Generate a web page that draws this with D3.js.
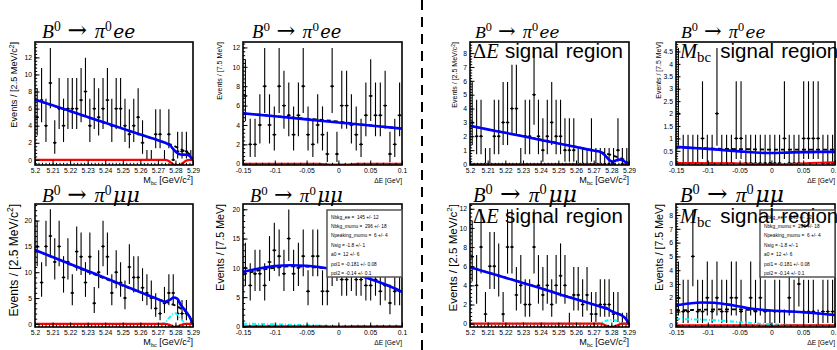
<!DOCTYPE html>
<html><head><meta charset="utf-8">
<script src="https://cdn.jsdelivr.net/npm/d3@7"></script>
<style>body{margin:0;background:#fff}svg{display:block}text{white-space:pre}</style>
</head><body><svg id="c" width="837" height="350"></svg>
<script>
// ---------------- DATA ----------------
const mbcRange = [5.2, 5.29], mbcBins = 36;
const deRange = [-0.15, 0.1], deBins = 33;
const mbcTicks = [5.2, 5.21, 5.22, 5.23, 5.24, 5.25, 5.26, 5.27, 5.28, 5.29];
const mbcTickLabels = ["5.2", "5.21", "5.22", "5.23", "5.24", "5.25", "5.26", "5.27", "5.28", "5.29"];
const deTicks = [-0.15, -0.1, -0.05, 0, 0.05, 0.1];
const deTickLabels = ["-0.15", "-0.1", "-0.05", "0", "0.05", "0.1"];

// bin counts
const countsMbcEE   = [5,7,4,9,2,6,4,6,6,6,7,8,4,6,5,6,7,4,6,6,4,3,4,5,2,0,0,3,3,0,3,0,1,1,1,0];
const countsDeEE    = [7,2,2,4,8,4,3,8,6,5,3,5,8,3,2,4,3,1,8,1,6,6,4,3,2,5,7,5,5,6,1,2,5];
const countsMbcEEsr = [3,2,2,0,0,2,2,3,3,4,4,0,2,2,5,2,1,2,3,2,2,1,1,1,0,0,0,1,0,0,0,0,0,1,0,0];
const countsDeEEsr  = [2,0,0,0,0,1,0,0,2,0,0,0,1,1,0,0,0,0,0,0,0,0,1,0,0,0,1,1,1,1,0,0,0];
const countsMbcMM   = [15,8,15,17,12,15,9,12,6,14,13,8,13,4,10,15,13,6,10,8,5,11,9,9,7,6,5,3,2,4,6,6,2,2,2,0];
const countsDeMM    = [10,7,9,9,7,11,13,12,9,15,9,10,12,6,12,12,6,6,10,11,8,8,9,8,8,7,7,8,6,7,4,6,6];
const countsMbcMMsr = [7,4,8,1,6,6,5,1,8,8,3,4,2,2,8,4,3,4,2,4,5,4,0,3,3,2,3,1,1,2,2,2,1,1,0,0];
const countsDeMMsr  = [2,1,1,5,1,1,2,1,2,1,1,2,2,1,0,2,1,2,1,0,1,1,0,2,1,3,1,1,1,0,1,1,1];

// 68.3% Poisson intervals (n = 0..20)
const poissonLo = [0,0.173,0.708,1.367,2.086,2.840,3.620,4.419,5.232,6.057,6.891,7.734,8.585,9.441,10.30,11.17,12.04,12.92,13.80,14.68,15.57];
const poissonHi = [1.148,3.300,4.638,5.918,7.163,8.382,9.584,10.77,11.95,13.11,14.27,15.42,16.56,17.70,18.83,19.96,21.08,22.20,23.32,24.44,25.55];

// fitted curves [x, y]
const totMbcEE = [[5.2,7.05],[5.21,6.4],[5.22,5.72],[5.23,5.03],[5.24,4.34],[5.25,3.66],[5.26,2.97],[5.27,2.3],[5.274,2.02],[5.277,1.7],[5.279,1.2],[5.281,0.8],[5.283,0.63],[5.286,0.6],[5.288,0.48],[5.29,0]];
const bkgMbcEE = [[5.2,7.05],[5.27,2.3],[5.275,1.97],[5.278,1.75],[5.28,1.55],[5.283,1.25],[5.286,0.95],[5.288,0.65],[5.29,0]];
const sigMbcEE = [[5.2,0],[5.274,0],[5.276,-0.1],[5.278,-0.4],[5.28,-0.6],[5.282,-0.6],[5.284,-0.4],[5.286,-0.1],[5.288,0],[5.29,0]];

const totDeEE = [[-0.15,5.2],[-0.1,4.9],[-0.05,4.58],[0,4.25],[0.05,3.95],[0.1,3.62]];
const bkgDeEE = [[-0.15,5.2],[-0.1,4.92],[-0.06,4.7],[-0.03,4.55],[0,4.35],[0.03,4.1],[0.06,3.9],[0.1,3.63]];
const sigDeEE = [[-0.15,0],[-0.03,0],[-0.01,-0.1],[0.01,-0.1],[0.03,0],[0.1,0]];

const totMbcEEsr = [[5.2,2.75],[5.21,2.5],[5.22,2.25],[5.23,2.0],[5.24,1.74],[5.25,1.48],[5.26,1.23],[5.27,0.97],[5.2736,0.89],[5.2765,0.62],[5.279,0.28],[5.2805,0.17],[5.2825,0.25],[5.284,0.33],[5.286,0.3],[5.288,0.14],[5.29,0]];
const bkgMbcEEsr = [[5.2,2.75],[5.27,0.97],[5.275,0.83],[5.28,0.65],[5.284,0.48],[5.287,0.32],[5.29,0]];
const sigMbcEEsr = [[5.2,0],[5.274,0],[5.278,-0.3],[5.281,-0.45],[5.284,-0.3],[5.288,0],[5.29,0]];

const totDeEEsr = [[-0.15,0.66],[-0.125,0.62],[-0.1,0.58],[-0.075,0.53],[-0.05,0.48],[-0.025,0.43],[0,0.41],[0.025,0.43],[0.05,0.45],[0.075,0.46],[0.1,0.46]];
const bkgDeEEsr = [[-0.15,0.64],[-0.125,0.62],[-0.1,0.6],[-0.075,0.58],[-0.05,0.57],[-0.025,0.56],[0,0.55],[0.05,0.55],[0.1,0.55]];
const sigDeEEsr = [[-0.15,0.01],[-0.06,0],[-0.03,-0.03],[0,-0.05],[0.03,-0.03],[0.06,0.01],[0.1,0.04]];

const totMbcMM = [[5.2,14.3],[5.21,12.95],[5.22,11.6],[5.23,10.25],[5.24,8.9],[5.25,7.5],[5.26,6.15],[5.27,4.8],[5.274,4.3],[5.277,4.7],[5.279,5.1],[5.281,4.9],[5.283,3.7],[5.286,2.4],[5.288,1.4],[5.29,0]];
const bkgMbcMM = [[5.2,14.3],[5.27,4.8],[5.274,4.3],[5.277,3.95],[5.28,3.55],[5.283,3.0],[5.286,2.3],[5.288,1.4],[5.29,0]];
const peakMbcMM = [[5.2,0],[5.272,0],[5.274,0.3],[5.276,1.0],[5.278,1.8],[5.2795,2.1],[5.281,1.8],[5.283,1.0],[5.285,0.3],[5.287,0],[5.29,0]];
const sigMbcMM = [[5.2,0],[5.274,0],[5.277,-0.2],[5.28,-0.6],[5.283,-0.2],[5.286,0],[5.29,0]];

const totDeMM = [[-0.15,9.3],[-0.125,9.9],[-0.1,10.3],[-0.075,10.45],[-0.05,10.35],[-0.025,10.05],[0,9.55],[0.025,8.9],[0.05,8.1],[0.075,7.1],[0.1,5.9]];
const bkgDeMM = [[-0.15,8.85],[-0.125,9.55],[-0.1,10.0],[-0.075,10.25],[-0.05,10.2],[-0.025,9.95],[0,9.5],[0.025,8.9],[0.05,8.1],[0.075,7.1],[0.1,5.9]];
const peakDeMM = [[-0.15,0.45],[-0.125,0.42],[-0.1,0.35],[-0.075,0.28],[-0.05,0.2],[-0.025,0.1],[0,0.04],[0.025,0.01],[0.05,0],[0.1,0]];
const sigDeMM = [[-0.15,0],[-0.02,0],[0,-0.05],[0.02,0],[0.1,0]];

const totMbcMMsr = [[5.2,5.9],[5.21,5.35],[5.22,4.8],[5.23,4.25],[5.24,3.7],[5.25,3.1],[5.26,2.55],[5.27,2.0],[5.275,1.72],[5.278,1.55],[5.28,1.3],[5.283,1.1],[5.286,0.85],[5.288,0.55],[5.29,0]];
const bkgMbcMMsr = [[5.2,5.9],[5.27,2.0],[5.275,1.7],[5.278,1.5],[5.28,1.35],[5.283,1.12],[5.286,0.85],[5.288,0.55],[5.29,0]];
const peakMbcMMsr = [[5.2,0],[5.272,0],[5.275,0.15],[5.278,0.35],[5.28,0.38],[5.282,0.35],[5.285,0.15],[5.288,0],[5.29,0]];
const sigMbcMMsr = [[5.2,0],[5.274,0],[5.277,-0.2],[5.28,-0.35],[5.283,-0.2],[5.286,0],[5.29,0]];

const totDeMMsr = [[-0.15,1.45],[-0.13,1.58],[-0.11,1.66],[-0.09,1.64],[-0.07,1.52],[-0.05,1.36],[-0.03,1.2],[0,1.08],[0.03,1.0],[0.05,0.95],[0.07,0.88],[0.1,0.75]];
const bkgDeMMsr = [[-0.15,1.08],[-0.12,1.12],[-0.09,1.15],[-0.06,1.16],[-0.03,1.12],[0,1.06],[0.03,1.0],[0.05,0.95],[0.07,0.88],[0.1,0.75]];
const peakDeMMsr = [[-0.15,0.46],[-0.12,0.43],[-0.09,0.37],[-0.06,0.27],[-0.03,0.16],[0,0.08],[0.03,0.04],[0.06,0.02],[0.1,0.01]];
const sigDeMMsr = [[-0.15,0],[-0.03,0],[0,-0.05],[0.03,0],[0.1,0]];

const legendLines = ["Nbkg_ee =  145 +/- 12","Nbkg_mumu =  296 +/- 18","Npeaking_mumu =  6 +/- 4","Nsig = -1.8 +/- 1","a0 =  12 +/- 6","pol1 = -0.181 +/- 0.08","pol2 = -0.14 +/- 0.1"];

const yTicks1 = [0,2,4,6,8,10,12];
const yTicks3 = [0,1,2,3,4,5,6,7,8];
const yTicks4 = [0,0.5,1,1.5,2,2.5,3,3.5,4,4.5];
const yTicks5 = [0,5,10,15,20];

// ---------------- PANELS ----------------
const panels = [
  {v:'mbc', counts:countsMbcEE, tot:totMbcEE, bkg:bkgMbcEE, sig:sigMbcEE, peak:null, ydom:[-0.6,13.8], yt:yTicks1, mode:'ee', region:null, legend:false},
  {v:'de', counts:countsDeEE, tot:totDeEE, bkg:bkgDeEE, sig:sigDeEE, peak:null, ydom:[-0.13,12.56], yt:yTicks1, mode:'ee', region:null, legend:false},
  {v:'mbc', counts:countsMbcEEsr, tot:totMbcEEsr, bkg:bkgMbcEEsr, sig:sigMbcEEsr, peak:null, ydom:[-0.07,8.8], yt:yTicks3, mode:'ee', region:'de', legend:false},
  {v:'de', counts:countsDeEEsr, tot:totDeEEsr, bkg:bkgDeEEsr, sig:sigDeEEsr, peak:null, ydom:[-0.07,4.88], yt:yTicks4, mode:'ee', region:'mbc', legend:false},
  {v:'mbc', counts:countsMbcMM, tot:totMbcMM, bkg:bkgMbcMM, sig:sigMbcMM, peak:peakMbcMM, ydom:[-0.6,23.2], yt:yTicks5, mode:'mm', region:null, legend:false},
  {v:'de', counts:countsDeMM, tot:totDeMM, bkg:bkgDeMM, sig:sigDeMM, peak:peakDeMM, ydom:[-0.1,20.9], yt:yTicks5, mode:'mm', region:null, legend:true},
  {v:'mbc', counts:countsMbcMMsr, tot:totMbcMMsr, bkg:bkgMbcMMsr, sig:sigMbcMMsr, peak:peakMbcMMsr, ydom:[-0.35,12.5], yt:yTicks1, mode:'mm', region:'de', legend:false},
  {v:'de', counts:countsDeMMsr, tot:totDeMMsr, bkg:bkgDeMMsr, sig:sigDeMMsr, peak:peakDeMMsr, ydom:[-0.12,8.8], yt:yTicks3, mode:'mm', region:'mbc', legend:true}
];
// layout (pixels)
const frames = [
  [35,42,193,165],[243,42,402,165],[470,42,629,165],[676,42,835,165],
  [35,204,193,327],[243,204,402,327],[470,204,629,327],[676,204,835,327]
];
const yTitleX = [14,220,455,659,14,220,453,659];
const yTitleLen = [86,58,66,57,113,87,108,87];
const titleX = [42,252,475,681,42,250,473,680];
const titleLen = [94,90,85,85,98,93,104,104];

const SANS = "'Liberation Sans', Arial, Helvetica, sans-serif";
const SERIF = "'Liberation Serif', 'DejaVu Serif', serif";
const DSERIF = "'DejaVu Serif', serif";

const svg = d3.select('#c');

function rich(g, x, y, parts, size, opt = {}) {
  const t = g.append('text').attr('x', x).attr('y', y).attr('font-size', size)
    .attr('text-anchor', opt.anchor || 'start').attr('font-family', SANS).attr('fill', '#000');
  if (opt.rotate) t.attr('transform', `rotate(-90,${x},${y})`);
  let cur = 0;
  parts.forEach(p => {
    const ts = t.append('tspan').text(p.t);
    const small = p.sup || p.sub;
    ts.attr('font-size', size * (p.scale || (small ? 0.7 : 1)));
    const target = p.sup ? -size * (p.supShift || 0.4) : p.sub ? size * (p.subShift || 0.25) : 0;
    if (target - cur) ts.attr('dy', target - cur);
    cur = target;
    if (p.dx) ts.attr('dx', p.dx * size);
    ts.attr('font-family', p.fam || (p.serif ? SERIF : SANS)).attr('font-style', p.i ? 'italic' : 'normal');
  });
  return t;
}
// size that makes the text span 'len' pixels
function fitSize(parts, len) {
  const t = rich(svg, 0, -100, parts, 10);
  const w = t.node().getBBox().width;
  t.remove();
  return 10 * len / w;
}

const titleParts = lep => [
  {t:'B', serif:true, i:true}, {t:'0', sup:true, serif:true, supShift:0.38},
  {t:'→', fam:DSERIF, dx:0.35, scale:1.2}, {t:'π', serif:true, i:true, dx:0.4, scale:1.05},
  {t:'0', sup:true, serif:true, supShift:0.38},
  {t:lep, fam:DSERIF, i:true, dx:0.07, scale:lep === 'ee' ? 0.96 : 1.08}
];
const deRegionParts = [{t:'Δ', serif:true}, {t:'E', serif:true, i:true}, {t:'signal', dx:0.3}, {t:'region', dx:0.35}];
const mbcRegionParts = [{t:'M', serif:true, i:true}, {t:'bc', serif:true, sub:true, scale:0.72, subShift:0.2}, {t:'signal', dx:0.45}, {t:'region', dx:0.35}];
const regionSize = fitSize(deRegionParts, 150);
const mbcTitleParts = [{t:'M'}, {t:'bc', sub:true, scale:0.6}, {t:' [GeV/c'}, {t:'2', sup:true, supShift:0.33}, {t:']'}];
const deTitleParts = [{t:'ΔE [GeV]'}];
const mbcTitleSize = fitSize(mbcTitleParts, 50);
const deTitleSize = fitSize(deTitleParts, 28);
const legendSize = fitSize([{t:legendLines[2]}], 57);

panels.forEach((p, k) => {
  const [x0, y0, x1, y1] = frames[k];
  const top = k < 4;
  const xr = p.v === 'mbc' ? mbcRange : deRange;
  const nb = p.v === 'mbc' ? mbcBins : deBins;
  const x = d3.scaleLinear().domain(xr).range([x0, x1]);
  const y = d3.scaleLinear().domain(p.ydom).range([y1, y0]);
  const g = svg.append('g');
  const clipId = 'clip' + k;
  svg.append('clipPath').attr('id', clipId).append('rect')
    .attr('x', x0).attr('y', y0).attr('width', x1 - x0).attr('height', y1 - y0);
  const plot = g.append('g').attr('clip-path', `url(#${clipId})`);

  // data points
  const bw = (xr[1] - xr[0]) / nb;
  const pts = p.counts.map((n, i) => ({x: xr[0] + bw * (i + 0.5), n, lo: poissonLo[n], hi: poissonHi[n]}));
  const pg = plot.append('g').attr('stroke', '#000').attr('stroke-width', 1.1);
  pg.selectAll('line.v').data(pts).join('line').attr('class', 'v')
    .attr('x1', d => x(d.x)).attr('x2', d => x(d.x)).attr('y1', d => y(d.lo)).attr('y2', d => y(d.hi));
  pg.selectAll('line.h').data(pts).join('line').attr('class', 'h')
    .attr('x1', d => x(d.x - bw * 0.4)).attr('x2', d => x(d.x + bw * 0.4)).attr('y1', d => y(d.n)).attr('y2', d => y(d.n));
  plot.append('g').selectAll('circle').data(pts).join('circle')
    .attr('cx', d => x(d.x)).attr('cy', d => y(d.n)).attr('r', 1.2).attr('fill', '#000');

  // curves
  const line = d3.line().x(d => x(d[0])).y(d => y(d[1])).curve(d3.curveMonotoneX);
  if (p.peak) plot.append('path').attr('d', line(p.peak)).attr('fill', 'none')
    .attr('stroke', '#00ffff').attr('stroke-width', 2).attr('stroke-dasharray', '4,2,1,2');
  plot.append('path').attr('d', line(p.sig)).attr('fill', 'none')
    .attr('stroke', '#ff0000').attr('stroke-width', 2.2);
  plot.append('path').attr('d', line(p.bkg)).attr('fill', 'none')
    .attr('stroke', '#000').attr('stroke-width', 1.8).attr('stroke-dasharray', '4,3');
  plot.append('path').attr('d', line(p.tot)).attr('fill', 'none')
    .attr('stroke', '#0000ff').attr('stroke-width', 2.6);

  // axes
  const ticks = p.v === 'mbc' ? mbcTicks : deTicks;
  const labels = p.v === 'mbc' ? mbcTickLabels : deTickLabels;
  const minorStep = p.v === 'mbc' ? 0.002 : 0.01;
  const minors = d3.range(Math.round((xr[1] - xr[0]) / minorStep) + 1).map(i => xr[0] + i * minorStep);
  g.append('g').attr('transform', `translate(0,${y1})`)
    .call(d3.axisBottom(x).tickValues(ticks).tickSize(-4.5).tickPadding(3.5)
      .tickFormat((d, i) => labels[i]));
  g.append('g').attr('transform', `translate(0,${y1})`)
    .call(d3.axisBottom(x).tickValues(minors).tickSize(-2.2).tickFormat(''));
  const ys = p.yt[1] - p.yt[0];
  const yMinors = d3.range(Math.ceil(p.ydom[0] / (ys / 5)), Math.floor(p.ydom[1] / (ys / 5)) + 1).map(i => i * ys / 5);
  g.append('g').attr('transform', `translate(${x0},0)`)
    .call(d3.axisLeft(y).tickValues(p.yt).tickSize(-4.5).tickPadding(3).tickFormat(d3.format('~g')));
  g.append('g').attr('transform', `translate(${x0},0)`)
    .call(d3.axisLeft(y).tickValues(yMinors).tickSize(-2.2).tickFormat(''));
  g.selectAll('.domain').remove();
  g.selectAll('.tick line').attr('stroke', '#000').attr('stroke-width', 1);
  g.selectAll('.tick text').attr('font-family', SANS).attr('font-size', 6.8).attr('fill', '#000');

  // frame
  g.append('rect').attr('x', x0).attr('y', y0).attr('width', x1 - x0).attr('height', y1 - y0)
    .attr('fill', 'none').attr('stroke', '#000').attr('stroke-width', 1.6);

  // axis titles
  const tY = y1 + 18;
  if (p.v === 'mbc') rich(g, x1, tY, mbcTitleParts, mbcTitleSize, {anchor:'end'});
  else rich(g, x1, tY, deTitleParts, deTitleSize, {anchor:'end'});
  const yLab = p.v === 'mbc'
    ? [{t:'Events / [2.5 MeV/c'}, {t:'2', sup:true}, {t:']'}]
    : [{t:'Events / [7.5 MeV]'}];
  const ySize = fitSize(yLab, yTitleLen[k]);
  rich(g, yTitleX[k] + ySize * 0.35, y0, yLab, ySize, {anchor:'end', rotate:true});

  // legend
  if (p.legend) {
    const lx0 = x1 - 75, ly0 = 210;
    g.append('rect').attr('x', lx0).attr('y', ly0).attr('width', 75).attr('height', 67)
      .attr('fill', '#fff').attr('stroke', '#555').attr('stroke-width', 1.5);
    legendLines.forEach((s, i) => {
      g.append('text').attr('x', lx0 + 4).attr('y', ly0 + 8.5 + i * 9.4).attr('font-family', SANS)
        .attr('font-size', legendSize).attr('fill', '#000').text(s);
    });
  }

  // title
  const base = top ? 38 : 202;
  const tp = titleParts(p.mode === 'ee' ? 'ee' : 'μμ');
  rich(g, titleX[k], base, tp, fitSize(tp, titleLen[k]));

  if (p.region === 'de') {
    rich(g, x0 + 3, y0 + (top ? 15.5 : 18.5), deRegionParts, regionSize);
  } else if (p.region === 'mbc') {
    rich(g, x0 + 4, y0 + (top ? 15.5 : 18.5), mbcRegionParts, regionSize);
  }
});

// separator
svg.append('line').attr('x1', 422).attr('x2', 422).attr('y1', 0).attr('y2', 350)
  .attr('stroke', '#000').attr('stroke-width', 2).attr('stroke-dasharray', '10,7');
</script></body></html>
